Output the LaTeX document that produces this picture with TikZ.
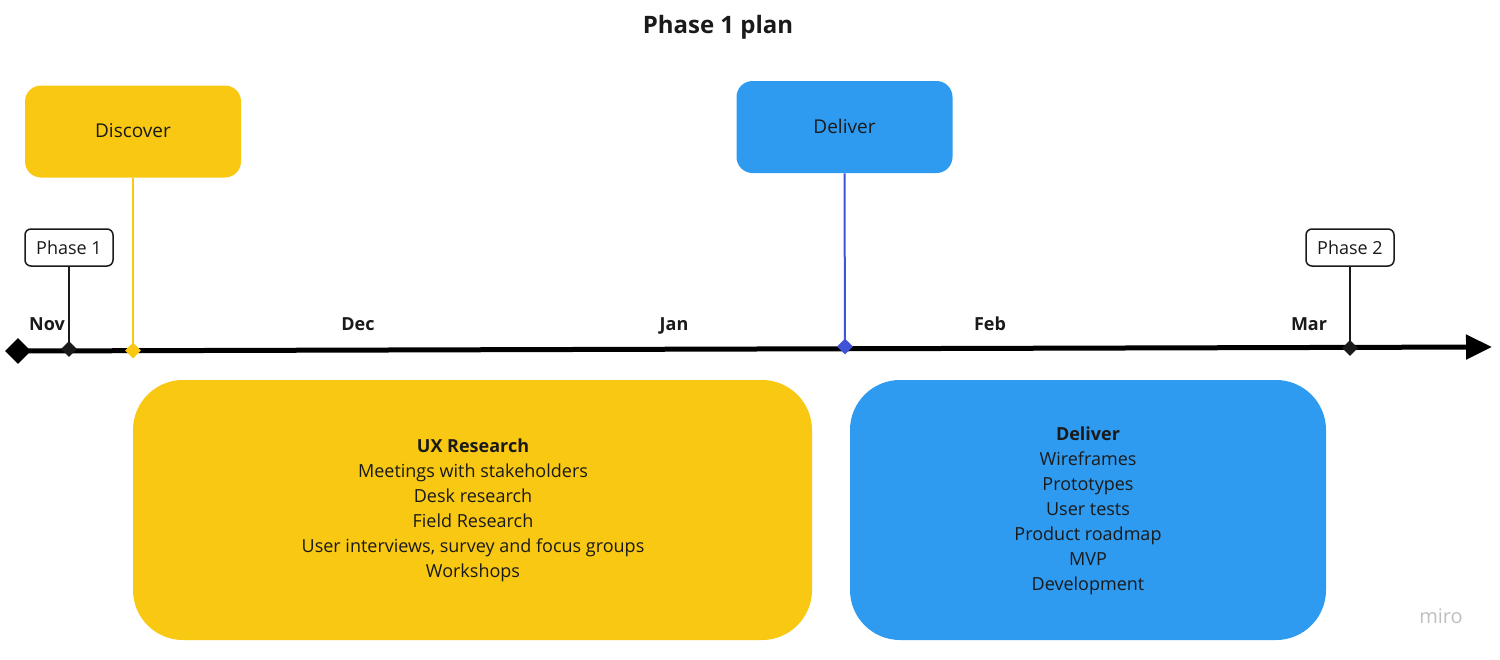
\documentclass[tikz,border=0pt]{standalone}
\usepackage{fontspec}
\setmainfont{Open Sans}
\usetikzlibrary{shapes.geometric,arrows.meta}
\definecolor{ylw}{HTML}{F8C812}
\definecolor{blu}{HTML}{2E9BF0}
\definecolor{bluline}{HTML}{4052D6}
\definecolor{txt}{HTML}{1A1A1A}
\tikzset{
  phasebox/.style={draw=txt, line width=0.75pt, rounded corners=3pt, minimum width=44pt, minimum height=18.5pt, font=\fontsize{9}{11}\selectfont, text=txt, inner sep=0pt},
  bigbox/.style={rounded corners=#1, inner sep=0pt, text=txt},
  month/.style={font=\bfseries\fontsize{9}{11}\selectfont, text=txt, anchor=base, inner sep=0pt},
  dmd/.style={diamond, fill=#1, inner sep=0pt, minimum size=8pt},
  boxtext/.style={font=\fontsize{9}{12.5}\selectfont, text=txt, align=center}
}
\begin{document}
\begin{tikzpicture}[x=0.5pt,y=-0.5pt]
\useasboundingbox (0,0) rectangle (1500,659);
% title
\node[font=\bfseries\fontsize{12}{14}\selectfont, text=txt] (title) at (718,27) {Phase 1 plan};
% timeline
\node[dmd=black, minimum size=13pt] (start) at (18,351) {};
\coordinate (end) at (1492,347);
\draw[line width=2.5pt, -{Triangle[length=13pt,width=12pt]}] (start.center) -- (end);
% diamonds on the line
\node[dmd=txt] (d1) at (69,349) {};
\node[dmd=ylw] (d2) at (133,350.5) {};
\node[dmd=bluline] (d3) at (845,346.5) {};
\node[dmd=txt] (d4) at (1350,348) {};
% top boxes
\node[bigbox=8pt, fill=ylw, minimum width=108pt, minimum height=46pt] (disc) at (133,131.5) {};
\node[font=\fontsize{9.5}{11}\selectfont, text=txt] (disct) at (133,131) {Discover};
\node[bigbox=8pt, fill=blu, minimum width=108pt, minimum height=46pt] (deliv) at (844.5,127) {};
\node[font=\fontsize{9.5}{11}\selectfont, text=txt] (delivt) at (844.5,126) {Deliver};
% phase boxes
\node[phasebox] (p1) at (69,247.5) {Phase 1};
\node[phasebox] (p2) at (1350,247.5) {Phase 2};
% connectors
\draw[txt, line width=0.9pt] (p1.south) -- (d1.center);
\draw[txt, line width=0.9pt] (p2.south) -- (d4.center);
\draw[ylw, line width=1pt] (disc.south) -- (d2.center);
\draw[bluline, line width=1pt] (deliv.south) -- (d3.center);
% months
\node[month] (nov) at (47,330) {Nov};
\node[month] (dec) at (358,330) {Dec};
\node[month] (jan) at (674,330) {Jan};
\node[month] (feb) at (990,330) {Feb};
\node[month] (mar) at (1309,330) {Mar};
% bottom boxes
\node[bigbox=25pt, fill=ylw, minimum width=339.5pt, minimum height=130pt] (ux) at (472.5,510) {};
\node[boxtext] (uxt) at (473,510.5) {\textbf{UX Research}\\Meetings with stakeholders\\Desk research\\Field Research\\User interviews, survey and focus groups\\Workshops};
\node[bigbox=25pt, fill=blu, minimum width=238pt, minimum height=130pt] (dv) at (1088,510) {};
\node[boxtext] (dvt) at (1088,511) {\textbf{Deliver}\\Wireframes\\Prototypes\\User tests\\Product roadmap\\MVP\\Development};
% watermark
\node[font=\fontsize{10}{12}\selectfont, text=black!25] (miro) at (1441,616) {miro};
\end{tikzpicture}
\end{document}
